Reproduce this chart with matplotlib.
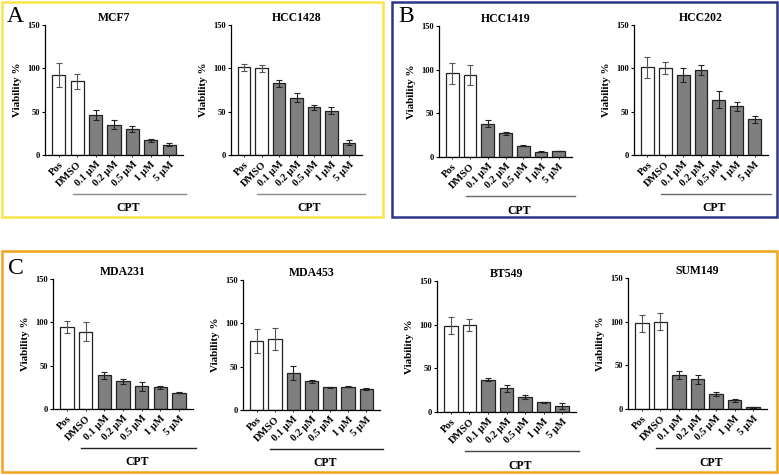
import numpy as np
import matplotlib
matplotlib.use('Agg')
import matplotlib.pyplot as plt
from matplotlib.patches import Rectangle

plt.rcParams['font.family'] = ['Liberation Serif', 'DejaVu Serif']
plt.rcParams['font.weight'] = 'bold'

labels = ['Pos', 'DMSO', '0.1 μM', '0.2 μM', '0.5 μM', '1 μM', '5 μM']

mcf7 = [92, 85, 46, 35, 30, 17, 12]
mcf7_err = [14, 9, 6, 5, 4, 2, 2]
hcc1428 = [101, 100, 83, 66, 55, 51, 14]
hcc1428_err = [4, 4, 4, 5, 3, 4, 3]
hcc1419 = [96, 94, 38, 27, 13, 6, 7]
hcc1419_err = [12, 11, 4, 2, 0.5, 0.3, 0.3]
hcc202 = [101, 100, 92, 98, 64, 56, 41]
hcc202_err = [12, 7, 8, 6, 10, 5, 4]
mda231 = [95, 89, 39, 32, 26, 25, 19]
mda231_err = [7, 11, 4, 3, 5, 2, 1]
mda453 = [80, 82, 43, 33, 26, 27, 24]
mda453_err = [14, 13, 8, 2, 0.5, 0.6, 1]
bt549 = [99, 100, 37, 27, 17, 11, 7]
bt549_err = [10, 7, 2, 4, 2, 1, 3]
sum149 = [98, 100, 39, 34, 17, 10, 2]
sum149_err = [10, 10, 5, 5, 2, 2, 0.5]

W, H = 779, 475
fig = plt.figure(figsize=(W / 100, H / 100), dpi=100)

# (name, values, errors, axis x px, y px at 150, y px at 0, right end px, line colour)
panels = [
    ('MCF7', mcf7, mcf7_err, 45, 25, 155, 183, '#8a8a8a'),
    ('HCC1428', hcc1428, hcc1428_err, 231, 25, 155, 362, '#8a8a8a'),
    ('HCC1419', hcc1419, hcc1419_err, 439, 26, 157, 572, '#6a6a6a'),
    ('HCC202', hcc202, hcc202_err, 634, 25, 155, 768, '#6a6a6a'),
    ('MDA231', mda231, mda231_err, 53, 279, 409, 193, '#222222'),
    ('MDA453', mda453, mda453_err, 243, 280, 410, 380, '#222222'),
    ('BT549', bt549, bt549_err, 437, 281, 412, 576, '#444444'),
    ('SUM149', sum149, sum149_err, 628, 278, 409, 767, '#222222'),
]

x = np.arange(len(labels))
colors = ['white', 'white'] + ['#7f7f7f'] * 5
ecolors = ['#555555', '#555555'] + ['#222222'] * 5

for name, vals, errs, x0, ytop, ybot, x1, lc in panels:
    ax = fig.add_axes([x0 / W, 1 - ybot / H, (x1 - x0) / W, (ybot - ytop) / H])
    ax.bar(x, vals, width=0.72, color=colors, edgecolor='#222222', linewidth=0.9)
    for i in range(len(x)):
        ax.errorbar(x[i], vals[i], yerr=errs[i], fmt='none', ecolor=ecolors[i],
                    elinewidth=0.8, capsize=2.5, capthick=0.8)
    ax.set_xlim(-0.75, 6.75)
    ax.set_ylim(0, 150)
    ax.set_yticks([0, 50, 100, 150])
    ax.set_xticks(x)
    ax.set_xticklabels(labels, rotation=45, ha='right', rotation_mode='anchor',
                       fontsize=7.5, fontweight='bold')
    ax.tick_params(axis='y', labelsize=6, length=2, width=0.8, pad=1.5)
    ax.tick_params(axis='x', length=1.5, width=0.6, pad=2)
    for lab in ax.get_yticklabels():
        lab.set_fontweight('bold')
    ax.spines['top'].set_visible(False)
    ax.spines['right'].set_visible(False)
    ax.spines['left'].set_linewidth(0.9)
    ax.spines['bottom'].set_linewidth(0.9)
    ax.set_ylabel('Viability %', fontsize=8, fontweight='bold', labelpad=4)
    ax.set_title(name, fontsize=8.5, fontweight='bold', pad=3)
    ax.plot([0.2, 1.02], [-0.3, -0.3], color=lc, lw=1.0, transform=ax.transAxes,
            clip_on=False)
    ax.text(0.6, -0.41, 'CPT', transform=ax.transAxes, ha='center', va='center',
            fontsize=8.5, fontweight='bold')

# coloured panel frames
def frame(x0, y0, x1, y1, col):
    fig.patches.append(Rectangle((x0 / W, 1 - y1 / H), (x1 - x0) / W, (y1 - y0) / H,
                                 transform=fig.transFigure, fill=False,
                                 edgecolor=col, linewidth=1.8))

frame(2, 2, 383, 217, '#f6e64a')
frame(392, 2, 777, 217, '#2c3588')
frame(2, 251, 777, 472, '#f4a21c')

fig.text(7 / W, 1 - 16 / H, 'A', fontsize=17, fontweight='normal', va='center')
fig.text(398 / W, 1 - 16 / H, 'B', fontsize=17, fontweight='normal', va='center')
fig.text(8 / W, 1 - 268 / H, 'C', fontsize=17, fontweight='normal', va='center')

plt.savefig('out.png', dpi=100)
